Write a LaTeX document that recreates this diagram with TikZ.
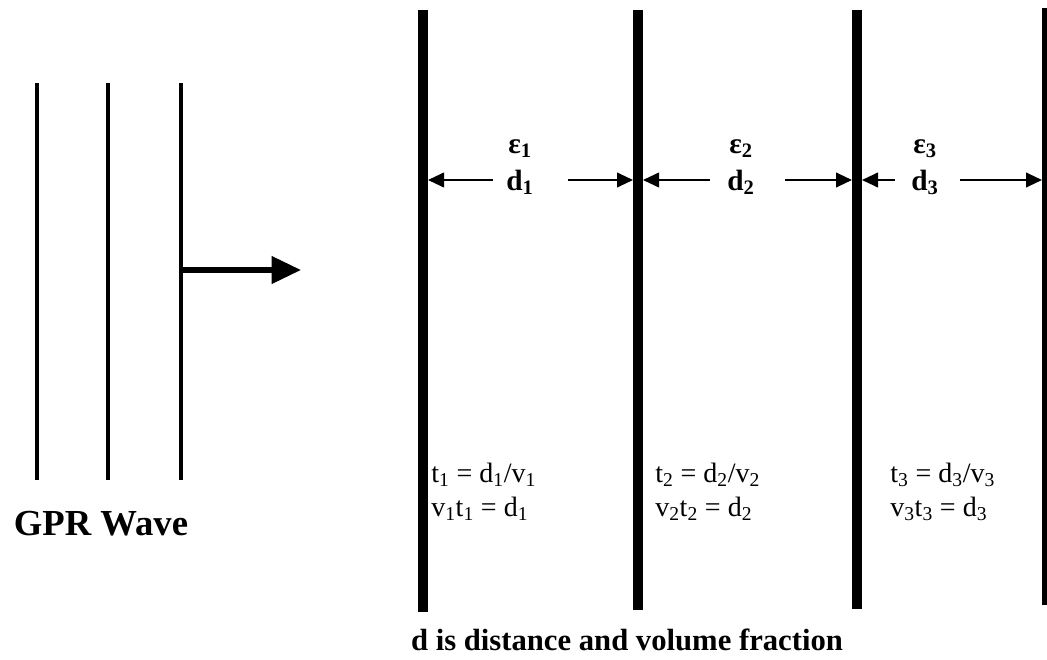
\documentclass[tikz,border=0pt]{standalone}
\usepackage{fontspec}
\setmainfont{Liberation Serif}
\usetikzlibrary{arrows.meta}
\begin{document}
\begin{tikzpicture}[x=0.75pt,y=-0.75pt,
  thinline/.style={line width=3.6pt},
  bar/.style={line width=7.8pt},
  dimarrow/.style={line width=1.5pt,-{Triangle[length=12pt,width=11pt]}},
  bigarrow/.style={line width=3.8pt,-{Triangle[length=22pt,width=20pt]}},
  dimlabel/.style={font=\fontsize{22}{24}\selectfont\bfseries, inner sep=1pt},
  formula/.style={font=\fontsize{21}{25}\selectfont, align=left, anchor=west, inner sep=0pt},
  caption/.style={font=\fontsize{23}{26}\selectfont\bfseries, inner sep=0pt}]
\useasboundingbox[fill=white] (0,0) rectangle (1047,660);
\begin{scope}
\clip (0,0) rectangle (1047,660);
% GPR wave fronts
\draw[thinline] (37,83) -- (37,480);
\draw[thinline] (108,83) -- (108,480);
\draw[thinline] (181,83) coordinate (w3top) -- (181,480);
\coordinate (wstart) at (181,270);
\coordinate (wend) at (301,270);
\draw[bigarrow] (wstart) -- (wend);
\node[caption, font=\fontsize{27.5}{30}\selectfont\bfseries] (gpr) at (101,524) {GPR Wave};
% layer boundaries
\draw[bar] (423,10) -- (423,612);
\draw[bar] (638,10) -- (638,610);
\draw[bar] (857,10) -- (857,609);
\draw[bar] (1047,8) -- (1047,605);
\coordinate (b1) at (428,180);
\coordinate (b2l) at (633,180);
\coordinate (b2r) at (643,180);
\coordinate (b3l) at (852,180);
\coordinate (b3r) at (862,180);
\coordinate (b4) at (1042,180);
% labels
\node[dimlabel] (e1) at (520,149) {ε\textsubscript{1}};
\node[dimlabel] (d1) at (520,182) {d\textsubscript{1}};
\node[dimlabel] (e2) at (741,149) {ε\textsubscript{2}};
\node[dimlabel] (d2) at (741,182) {d\textsubscript{2}};
\node[dimlabel] (e3) at (925,149) {ε\textsubscript{3}};
\node[dimlabel] (d3) at (925,182) {d\textsubscript{3}};
\coordinate (d1l) at (493,180);
\coordinate (d1r) at (568,180);
\coordinate (d2l) at (710,180);
\coordinate (d2r) at (785,180);
\coordinate (d3l) at (895,180);
\coordinate (d3r) at (960,180);
\draw[dimarrow] (d1l) -- (b1);
\draw[dimarrow] (d1r) -- (b2l);
\draw[dimarrow] (d2l) -- (b2r);
\draw[dimarrow] (d2r) -- (b3l);
\draw[dimarrow] (d3l) -- (b3r);
\draw[dimarrow] (d3r) -- (b4);
% formulas
\node[formula] (f1a) at (431,475) {t\textsubscript{1} = d\textsubscript{1}/v\textsubscript{1}};
\node[formula] (f1b) at (431,509) {v\textsubscript{1}t\textsubscript{1} = d\textsubscript{1}};
\node[formula] (f2a) at (655,475) {t\textsubscript{2} = d\textsubscript{2}/v\textsubscript{2}};
\node[formula] (f2b) at (655,509) {v\textsubscript{2}t\textsubscript{2} = d\textsubscript{2}};
\node[formula] (f3a) at (890,475) {t\textsubscript{3} = d\textsubscript{3}/v\textsubscript{3}};
\node[formula] (f3b) at (890,509) {v\textsubscript{3}t\textsubscript{3} = d\textsubscript{3}};
\node[caption] (cap) at (627,640) {d is distance and volume fraction};
\end{scope}
\end{tikzpicture}
\end{document}
